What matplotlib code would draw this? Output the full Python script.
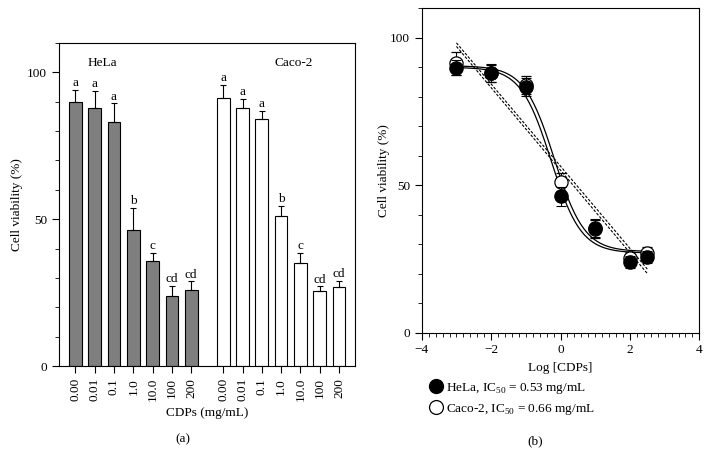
import numpy as np
import matplotlib
matplotlib.use('Agg')
import matplotlib.pyplot as plt
from matplotlib.lines import Line2D
from matplotlib.ticker import MultipleLocator

plt.rcParams['font.family'] = ['Liberation Serif', 'DejaVu Serif']
plt.rcParams['mathtext.fontset'] = 'custom'
plt.rcParams['mathtext.rm'] = 'Liberation Serif'
plt.rcParams['font.size'] = 9
plt.rcParams['axes.linewidth'] = 0.8

# ---- data ----
conc_labels = ['0.00', '0.01', '0.1', '1.0', '10.0', '100', '200']
hela_mean = [89.9, 88.0, 83.2, 46.2, 35.6, 23.9, 25.8]
hela_sd   = [4.1, 5.7, 6.2, 7.5, 2.9, 3.5, 3.0]
caco_mean = [91.3, 87.9, 84.1, 51.2, 35.2, 25.4, 27.0]
caco_sd   = [4.3, 3.1, 2.9, 3.2, 3.3, 1.7, 1.9]
letters   = ['a', 'a', 'a', 'b', 'c', 'cd', 'cd']

log_conc  = [-3, -2, -1, 0, 1, 2, 2.5]
hela_err_b = [2.6, 3.0, 3.0, 3.3, 3.0, 2.0, 2.0]
caco_err_b = [4.0, 3.0, 3.0, 3.0, 3.0, 2.0, 2.0]

# dose-response fit parameters (top, bottom, IC50 mg/mL, hill)
hela_fit = (90.0, 27.0, 0.53, 1.0)
caco_fit = (90.5, 27.5, 0.66, 1.0)

fig = plt.figure(figsize=(7.1, 4.54), dpi=100)

# ---------------- (a) bar chart ----------------
ax1 = fig.add_axes([0.0831, 0.1938, 0.4169, 0.7115])
x_hela = np.arange(len(conc_labels))
x_caco = x_hela + 7.66
w = 0.66

ax1.bar(x_hela, hela_mean, width=w, color='#7f7f7f', edgecolor='black', linewidth=0.8)
ax1.bar(x_caco, caco_mean, width=w, color='white', edgecolor='black', linewidth=0.8)
ax1.errorbar(x_hela, hela_mean, yerr=[np.zeros(7), hela_sd], fmt='none',
             ecolor='black', elinewidth=0.8, capsize=2.5, capthick=0.8)
ax1.errorbar(x_caco, caco_mean, yerr=[np.zeros(7), caco_sd], fmt='none',
             ecolor='black', elinewidth=0.8, capsize=2.5, capthick=0.8)

for xs, m, s in [(x_hela, hela_mean, hela_sd), (x_caco, caco_mean, caco_sd)]:
    for xi, mi, si, lt in zip(xs, m, s, letters):
        ax1.text(xi, mi + si + 0.3, lt, ha='center', va='bottom', fontsize=9.5)

ax1.text(1.4, 101, 'HeLa', ha='center', va='bottom', fontsize=9.5)
ax1.text(11.3, 101, 'Caco-2', ha='center', va='bottom', fontsize=9.5)

ax1.set_xlim(-0.85, 14.49)
ax1.set_ylim(0, 110)
ax1.set_xticks(np.concatenate([x_hela, x_caco]))
ax1.set_xticklabels(conc_labels + conc_labels, rotation=90, fontsize=9.5)
ax1.set_yticks([0, 50, 100])
ax1.yaxis.set_minor_locator(MultipleLocator(10))
ax1.tick_params(axis='both', direction='out', length=5, width=0.8, labelsize=9.5)
ax1.tick_params(axis='y', which='minor', length=3, width=0.6)
ax1.set_xlabel('CDPs (mg/mL)', fontsize=9.5, labelpad=4)
ax1.set_ylabel('Cell viability (%)', fontsize=9.5, labelpad=3)
fig.text(183 / 710, 1 - 439 / 454, '(a)', ha='center', va='center', fontsize=9.5)

# ---------------- (b) dose-response ----------------
ax2 = fig.add_axes([0.594, 0.2672, 0.391, 0.7145])
xs = np.linspace(log_conc[0], log_conc[-1], 200)


def logistic(x, top, bottom, ic50, hill):
    return bottom + (top - bottom) / (1 + 10 ** (hill * (x - np.log10(ic50))))


for fit in (hela_fit, caco_fit):
    ax2.plot(xs, logistic(xs, *fit), color='black', linewidth=0.9, zorder=2)

for ys in (hela_mean, caco_mean):
    k, b = np.polyfit(log_conc, ys, 1)
    ax2.plot(xs, k * xs + b, color='black', linestyle=(0, (2.5, 1.5)),
             linewidth=0.8, zorder=2)

ax2.errorbar(log_conc, caco_mean, yerr=caco_err_b, fmt='o', color='black',
             markerfacecolor='white', markeredgecolor='black', markersize=9.5,
             markeredgewidth=0.9, elinewidth=0.8, capsize=3.6, capthick=0.8, zorder=3)
ax2.errorbar(log_conc, hela_mean, yerr=hela_err_b, fmt='o', color='black',
             markerfacecolor='black', markeredgecolor='black', markersize=9.5,
             elinewidth=0.8, capsize=3.6, capthick=0.8, zorder=4)

ax2.set_xlim(-4, 4)
ax2.set_ylim(0, 110)
ax2.set_xticks([-4, -2, 0, 2, 4])
ax2.xaxis.set_minor_locator(MultipleLocator(0.2))
ax2.set_yticks([0, 50, 100])
ax2.yaxis.set_minor_locator(MultipleLocator(10))
ax2.tick_params(axis='both', direction='out', length=5, width=0.8, labelsize=9.5)
ax2.tick_params(axis='both', which='minor', length=3, width=0.6)
ax2.set_xlabel('Log [CDPs]', fontsize=9.5, labelpad=4)
ax2.set_ylabel('Cell viability (%)', fontsize=9.5, labelpad=0)

handles = [
    Line2D([], [], marker='o', linestyle='none', markersize=10,
           markerfacecolor='black', markeredgecolor='black'),
    Line2D([], [], marker='o', linestyle='none', markersize=10,
           markerfacecolor='white', markeredgecolor='black', markeredgewidth=0.9),
]
labels = [r'HeLa, IC$_{50}$ = 0.53 mg/mL', r'Caco-2, IC$_{50}$ = 0.66 mg/mL']
fig.legend(handles, labels, loc='upper left', bbox_to_anchor=(429 / 710, 1 - 381 / 454),
           frameon=False, fontsize=9.5, handlelength=1.0, handletextpad=0.3,
           labelspacing=0.45, borderaxespad=0, borderpad=0)
fig.text(535 / 710, 1 - 441 / 454, '(b)', ha='center', va='center', fontsize=9.5)

fig.savefig('out.png', dpi=100)
